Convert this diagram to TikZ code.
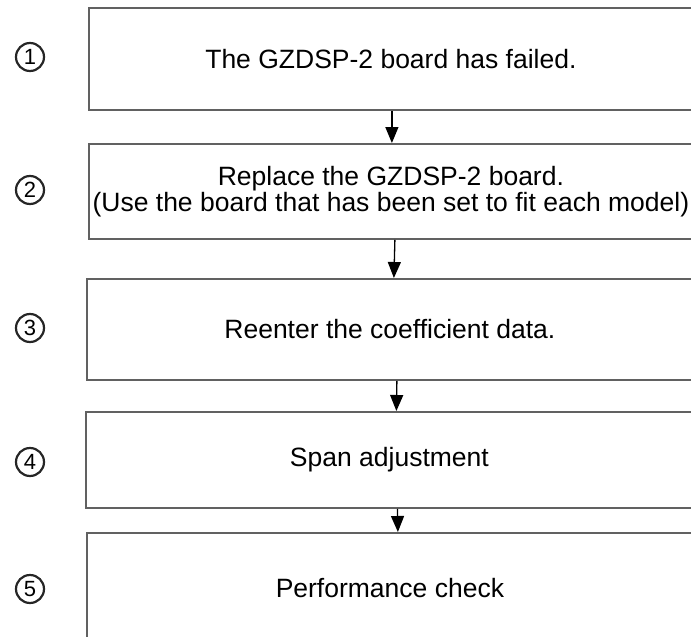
\documentclass[tikz,border=0pt]{standalone}
\usepackage{fontspec}
\setmainfont{Liberation Sans}
\usetikzlibrary{arrows.meta}
\begin{document}
\begin{tikzpicture}[x=1pt,y=-1pt,
  stepbox/.style={draw=black!62, line width=1.8pt, fill=white, anchor=north west, inner sep=0pt, align=center, font=\fontsize{26.5}{24}\selectfont},
  num/.style={circle, draw=black!85, line width=2.2pt, minimum size=28pt, inner sep=0pt, font=\fontsize{22}{22}\selectfont},
  flow/.style={-{Triangle[length=16pt,width=13pt]}, line width=1.3pt, black}]
\useasboundingbox (0,0) rectangle (691,637);
\node[stepbox, minimum width=604pt, minimum height=102pt] (b1) at (88,7) {The GZDSP-2 board has failed.};
\node[stepbox, minimum width=604pt, minimum height=95pt] (b2) at (88,143) {Replace the GZDSP-2 board.\\(Use the board that has been set to fit each model)};
\node[stepbox, minimum width=606pt, minimum height=101pt] (b3) at (86,278) {Reenter the coefficient data.};
\node[stepbox, minimum width=607pt, minimum height=96pt] (b4) at (85,411) {Span adjustment};
\node[stepbox, minimum width=606pt, minimum height=110pt] (b5) at (86,532) {Performance check};
\node[num] (n1) at (30,57) {1};
\node[num] (n2) at (30,190) {2};
\node[num] (n3) at (30,328) {3};
\node[num] (n4) at (30,462) {4};
\node[num] (n5) at (30,589) {5};
\draw[flow] ([xshift=1pt]b1.south) -- ([xshift=1pt]b2.north);
\draw[flow] ([xshift=4pt]b2.south) -- ([xshift=4pt]b3.north);
\draw[flow] ([xshift=7pt]b3.south) -- ([xshift=7pt]b4.north);
\draw[flow] ([xshift=8pt]b4.south) -- ([xshift=8pt]b5.north);
\end{tikzpicture}
\end{document}
